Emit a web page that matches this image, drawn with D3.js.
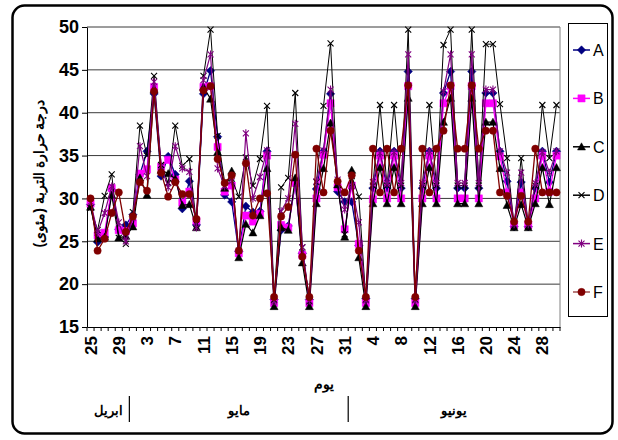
<!DOCTYPE html>
<html>
<head>
<meta charset="utf-8">
<script src="https://cdn.jsdelivr.net/npm/d3@7"></script>
<style>
  body { margin: 0; background: #fff; }
  svg { font-family: Arial, "Liberation Sans", sans-serif; }
</style>
</head>
<body>
<div id="plot"></div>
<script>
// soil temperature readings, 25 April -> 30 June
const monthNames = ["ابريل", "مايو", "يونيو"];
const monthFirstDay = [25, 1, 1];
const monthLastDay = [30, 31, 30];

const seriesNames = ["A", "B", "C", "D", "E", "F"];
const yTicks = [15, 20, 25, 30, 35, 40, 45, 50];

const valuesA = [29.3, 24.9, 25.5, 31.0, 26.4, 26.9, 28.1, 32.8, 35.5, 42.2,
  32.6, 34.9, 32.8, 28.8, 32.0, 26.9, 42.2, 44.9, 37.2, 30.4,
  29.6, 23.8, 29.1, 28.4, 28.5, 35.5, 18.2, 26.3, 26.8, 31.7,
  23.6, 18.2, 31.1, 35.5, 42.2, 30.8, 29.6, 29.6, 24.5, 18.3,
  31.2, 35.5, 31.2, 35.5, 31.2, 44.8, 18.3, 31.2, 35.5, 31.2,
  42.3, 44.8, 31.2, 31.2, 44.8, 31.2, 42.3, 42.3, 35.5, 32.0,
  26.7, 31.9, 26.7, 31.2, 35.5, 31.9, 35.5];
const valuesB = [29.4, 25.7, 26.0, 31.2, 26.3, 26.2, 27.1, 32.9, 33.4, 43.0,
  33.7, 34.5, 32.2, 29.5, 30.8, 27.4, 43.0, 43.1, 36.0, 30.8,
  31.5, 23.6, 28.0, 27.3, 28.2, 35.0, 17.8, 26.9, 26.6, 31.8,
  23.4, 17.8, 30.0, 35.1, 41.1, 31.3, 26.4, 31.5, 24.7, 17.8,
  29.9, 35.0, 30.0, 35.0, 30.0, 43.1, 17.8, 30.0, 35.0, 30.0,
  41.1, 43.1, 30.0, 30.0, 43.1, 30.0, 41.1, 41.1, 34.9, 30.7,
  26.9, 30.7, 26.9, 30.0, 35.0, 30.8, 35.0];
const valuesC = [29.0, 25.3, 25.5, 30.4, 25.4, 25.6, 26.7, 32.4, 30.4, 42.7,
  33.3, 32.9, 32.3, 29.2, 29.3, 26.6, 43.0, 41.6, 35.4, 31.2,
  33.2, 23.1, 27.0, 26.0, 28.0, 33.5, 17.4, 26.6, 26.3, 32.4,
  22.5, 17.4, 29.4, 33.5, 38.8, 31.6, 25.5, 33.3, 23.1, 17.4,
  29.4, 33.6, 29.4, 33.6, 29.4, 41.7, 17.4, 29.4, 33.6, 29.4,
  38.9, 41.7, 29.4, 29.4, 41.7, 29.4, 38.9, 38.9, 33.5, 29.2,
  26.6, 29.3, 26.6, 29.4, 33.6, 29.3, 33.6];
const valuesD = [28.9, 26.3, 30.3, 32.8, 25.4, 24.7, 28.4, 38.5, 35.0, 44.3,
  33.9, 31.8, 38.5, 33.8, 34.6, 27.0, 44.3, 49.7, 37.3, 31.9,
  32.3, 30.2, 34.8, 31.5, 34.6, 40.8, 18.2, 31.3, 32.4, 42.3,
  24.3, 18.0, 31.9, 40.8, 48.1, 31.6, 25.8, 32.6, 30.2, 18.2,
  31.5, 40.9, 31.5, 40.9, 31.5, 49.7, 18.2, 31.5, 40.9, 31.5,
  47.9, 49.7, 31.5, 31.5, 49.7, 31.5, 48.0, 48.0, 41.0, 34.7,
  26.8, 34.7, 26.8, 31.5, 40.9, 34.7, 40.9];
const valuesE = [29.6, 26.0, 28.3, 31.4, 27.2, 25.0, 27.8, 36.1, 32.6, 43.6,
  33.7, 31.3, 36.1, 33.5, 33.1, 26.6, 43.8, 46.8, 33.5, 31.4,
  32.0, 23.9, 37.6, 30.0, 32.5, 35.6, 18.0, 28.5, 30.0, 38.7,
  24.3, 18.1, 32.0, 35.6, 42.7, 32.2, 28.7, 31.5, 27.2, 18.1,
  31.9, 35.3, 31.8, 35.4, 31.8, 46.8, 18.1, 31.8, 35.5, 31.8,
  42.5, 46.8, 31.8, 31.8, 46.8, 31.8, 42.7, 42.7, 35.5, 33.0,
  27.0, 33.0, 27.0, 31.8, 35.4, 33.0, 35.5];
const valuesF = [30.0, 23.9, 25.3, 28.3, 30.7, 26.1, 27.9, 31.9, 30.9, 42.5,
  33.0, 30.2, 31.9, 30.5, 30.5, 27.6, 42.6, 43.1, 34.6, 31.8,
  32.7, 23.9, 34.1, 28.0, 30.0, 30.6, 18.5, 27.9, 29.0, 35.1,
  23.2, 18.5, 35.8, 30.7, 37.9, 32.0, 30.7, 32.7, 23.9, 18.5,
  35.8, 30.7, 35.8, 30.7, 35.8, 43.2, 18.5, 35.8, 30.7, 35.8,
  37.9, 43.2, 35.8, 35.8, 43.2, 35.8, 37.9, 37.9, 30.7, 30.3,
  27.3, 30.3, 27.3, 35.8, 30.7, 30.7, 30.7];

const allValues = [valuesA, valuesB, valuesC, valuesD, valuesE, valuesF];
const colors = ["#000080", "#ff00ff", "#000000", "#000000", "#800080", "#800000"];
const lineWidths = [1.3, 1.3, 1.2, 1, 1.2, 1.3];

// build the day categories with their month index
let days = [];
monthNames.forEach((m, mi) => {
  for (let d = monthFirstDay[mi]; d <= monthLastDay[mi]; d++) {
    days.push({ day: d, month: mi });
  }
});

const w = 618;
const h = 440;
const plot = { left: 87, right: 560, top: 27, bottom: 327 };

const svg = d3.select("div#plot")
  .append("svg")
  .attr("width", w)
  .attr("height", h);

// outer chart frame
svg.append("rect")
  .attr("x", 12.5).attr("y", 5.5)
  .attr("width", 600).attr("height", 428)
  .attr("rx", 12)
  .attr("fill", "#fff")
  .attr("stroke", "#000")
  .attr("stroke-width", 2.5);

const xScale = d3.scaleBand()
  .domain(d3.range(days.length))
  .range([plot.left, plot.right])
  .padding(0);

const yScale = d3.scaleLinear()
  .domain([15, 50])
  .range([plot.bottom, plot.top]);

const cx = i => xScale(i) + xScale.bandwidth() / 2;

// gridlines
svg.append("g")
  .selectAll("line")
  .data(yTicks.slice(1))
  .enter()
  .append("line")
  .attr("x1", plot.left).attr("x2", plot.right)
  .attr("y1", d => yScale(d)).attr("y2", d => yScale(d))
  .attr("stroke", "#3a3a3a")
  .attr("stroke-width", 1);

// right border of plot area
svg.append("line")
  .attr("x1", plot.right).attr("x2", plot.right)
  .attr("y1", plot.top).attr("y2", plot.bottom)
  .attr("stroke", "#808080");

// y axis
const yAxis = d3.axisLeft(yScale)
  .tickValues(yTicks)
  .tickSize(5)
  .tickSizeOuter(0)
  .tickPadding(3);

svg.append("g")
  .attr("class", "yAxis")
  .attr("transform", `translate(${plot.left}, 0)`)
  .call(yAxis)
  .call(g => g.selectAll("text")
    .attr("font-size", 18)
    .attr("font-weight", "bold")
    .attr("font-family", "Arial, 'Liberation Sans', sans-serif")
    .attr("fill", "#000"));

// x axis with a label every 4th day
const xAxis = d3.axisBottom(xScale)
  .tickValues(d3.range(0, days.length, 4))
  .tickFormat(i => days[i].day)
  .tickSize(0)
  .tickSizeOuter(0);

svg.append("g")
  .attr("class", "xAxis")
  .attr("transform", `translate(0, ${plot.bottom})`)
  .call(xAxis)
  .call(g => g.selectAll("text")
    .attr("transform", "rotate(-90)")
    .attr("text-anchor", "end")
    .attr("x", -9)
    .attr("y", 0)
    .attr("dy", "0.36em")
    .attr("font-size", 17)
    .attr("font-weight", "bold")
    .attr("font-family", "Arial, 'Liberation Sans', sans-serif")
    .attr("fill", "#000"));

// small tick marks between days
svg.append("g")
  .selectAll("line")
  .data(d3.range(days.length + 1))
  .enter()
  .append("line")
  .attr("x1", i => i < days.length ? xScale(i) : plot.right)
  .attr("x2", i => i < days.length ? xScale(i) : plot.right)
  .attr("y1", plot.bottom)
  .attr("y2", plot.bottom + 4)
  .attr("stroke", "#000");

// axis titles
svg.append("text")
  .attr("x", (plot.left + plot.right) / 2)
  .attr("y", 389)
  .attr("text-anchor", "middle")
  .attr("font-size", 14)
  .attr("font-weight", "bold")
  .text("يوم");

svg.append("text")
  .attr("transform", `translate(44, ${(plot.top + 260) / 2 + 30}) rotate(-90)`)
  .attr("text-anchor", "middle")
  .attr("font-size", 14)
  .attr("font-weight", "bold")
  .text("درجة حرارة التربة (مئوى)");

// month group labels
monthNames.forEach((m, mi) => {
  const idx = days.map((d, i) => d.month === mi ? i : -1).filter(i => i >= 0);
  const x0 = xScale(idx[0]);
  const x1 = xScale(idx[idx.length - 1]) + xScale.bandwidth();
  svg.append("text")
    .attr("x", (x0 + x1) / 2)
    .attr("y", 415)
    .attr("text-anchor", "middle")
    .attr("font-size", 13)
    .attr("font-weight", "bold")
    .text(m);
  if (mi > 0) {
    svg.append("line")
      .attr("x1", x0).attr("x2", x0)
      .attr("y1", 396).attr("y2", 422)
      .attr("stroke", "#000")
      .attr("stroke-width", 1.2);
  }
});

// marker shapes
function markerPath(k) {
  if (k === 0) return "M0,-4.2L4.2,0L0,4.2L-4.2,0Z";
  if (k === 1) return "M-3.6,-3.6H3.6V3.6H-3.6Z";
  if (k === 2) return "M0,-4L4,3.2H-4Z";
  if (k === 3) return "M-3,-3L3,3M-3,3L3,-3";
  if (k === 4) return "M-3,-3L3,3M-3,3L3,-3M0,-4V4";
  return d3.symbol().type(d3.symbolCircle).size(42)();
}

const line = d3.line()
  .x((d, i) => cx(i))
  .y(d => yScale(d));

allValues.forEach((vals, k) => {
  const g = svg.append("g").attr("class", "series" + seriesNames[k]);
  g.append("path")
    .datum(vals)
    .attr("d", line)
    .attr("fill", "none")
    .attr("stroke", colors[k])
    .attr("stroke-width", lineWidths[k]);
  const stroked = (k === 3 || k === 4);
  g.selectAll(".mark")
    .data(vals)
    .enter()
    .append("path")
    .attr("class", "mark")
    .attr("transform", (d, i) => `translate(${cx(i)}, ${yScale(d)})`)
    .attr("d", markerPath(k))
    .attr("fill", stroked ? "none" : colors[k])
    .attr("stroke", colors[k])
    .attr("stroke-width", stroked ? 1.1 : 0.5);
});

// legend
const legend = svg.append("g");
legend.append("rect")
  .attr("x", 568.5).attr("y", 23.5)
  .attr("width", 39).attr("height", 293)
  .attr("fill", "#fff")
  .attr("stroke", "#000");

seriesNames.forEach((name, k) => {
  const ly = 50 + k * 48.4;
  legend.append("line")
    .attr("x1", 573).attr("x2", 590)
    .attr("y1", ly).attr("y2", ly)
    .attr("stroke", k === 5 ? "#a05050" : colors[k])
    .attr("stroke-width", 1.5);
  const stroked = (k === 3 || k === 4);
  legend.append("path")
    .attr("transform", `translate(581.5, ${ly})`)
    .attr("d", markerPath(k))
    .attr("fill", stroked ? "none" : colors[k])
    .attr("stroke", colors[k])
    .attr("stroke-width", stroked ? 1.1 : 0.5);
  legend.append("text")
    .attr("x", 593)
    .attr("y", ly + 6)
    .attr("font-size", 16)
    .text(name);
});
</script>
</body>
</html>
